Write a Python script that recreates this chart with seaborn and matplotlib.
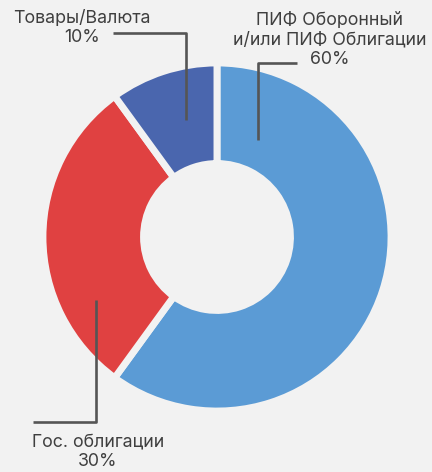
import matplotlib
matplotlib.use("Agg")
import matplotlib.pyplot as plt
import seaborn as sns

labels = ["ПИФ Оборонный\nи/или ПИФ Облигации\n60%", "Гос. облигации\n30%", "Товары/Валюта\n10%"]
values = [60, 30, 10]
colors = ["#5b9bd5", "#e04141", "#4a66ae"]

BG = "#f2f2f2"
sns.set_theme(style="white")
plt.rcParams["font.family"] = ["Inter", "DejaVu Sans"]

fig = plt.figure(figsize=(4.32, 4.72), dpi=100, facecolor=BG)
ax = fig.add_axes([45/432, (472-409)/472, 344/432, 344/472])
ax.set_facecolor(BG)
ax.pie(values, colors=colors, startangle=90, counterclock=False, radius=1.012,
       wedgeprops=dict(width=0.585, edgecolor=BG, linewidth=5))
ax.set_xlim(-1, 1); ax.set_ylim(-1, 1)
ax.set_aspect("equal")
ax.axis("off")

lc = "#555555"
callouts = [
    [(0.238, 0.564), (0.238, 1.012), (0.465, 1.012)],
    [(-0.703, -0.366), (-0.703, -1.076), (-1.070, -1.076)],
    [(-0.180, 0.680), (-0.180, 1.186), (-0.605, 1.186)],
]
for pts in callouts:
    xs, ys = zip(*pts)
    ax.plot(xs, ys, color=lc, lw=1.9, clip_on=False, solid_capstyle="butt")

tc = "#3f3f3f"
fs = 12.8
fig.text(330/432, 1 - 40/472, labels[0], ha="center", va="center", fontsize=fs, color=tc, linespacing=1.22)
fig.text(98/432, 1 - 452/472, labels[1], ha="center", va="center", fontsize=fs, color=tc, linespacing=1.22)
fig.text(82/432, 1 - 28/472, labels[2], ha="center", va="center", fontsize=fs, color=tc, linespacing=1.22)

fig.savefig("out.png", dpi=100, facecolor=BG)
